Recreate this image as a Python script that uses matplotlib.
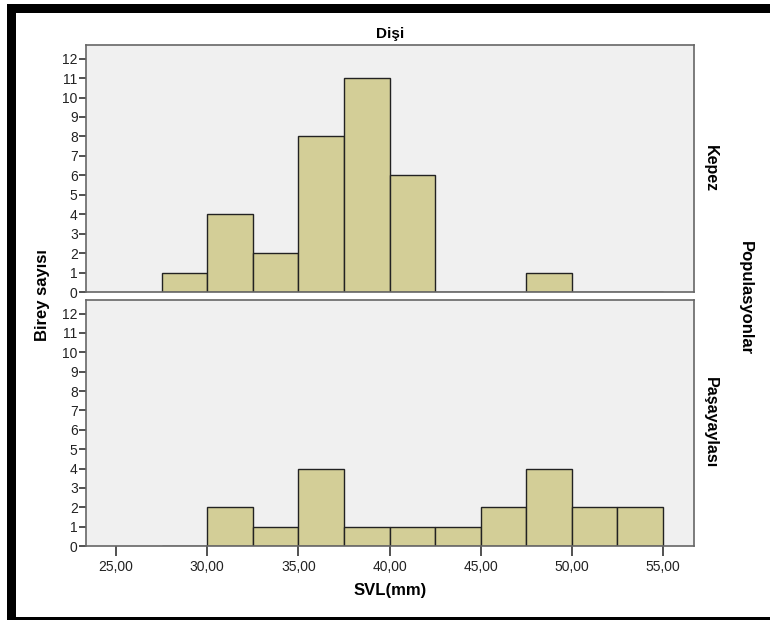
import matplotlib.pyplot as plt
import numpy as np
from matplotlib.patches import Rectangle

plt.rcParams['font.family'] = ['Liberation Sans', 'DejaVu Sans']

# Histogram bins (SVL, mm) and counts per population
bin_edges = [27.5, 30.0, 32.5, 35.0, 37.5, 40.0, 42.5, 45.0, 47.5, 50.0, 52.5, 55.0]
kepez_counts = [1, 4, 2, 8, 11, 6, 0, 0, 1, 0, 0]
pasa_counts = [0, 2, 1, 4, 1, 1, 1, 2, 4, 2, 2]

x_ticks = [25, 30, 35, 40, 45, 50, 55]
x_tick_labels = ["25,00", "30,00", "35,00", "40,00", "45,00", "50,00", "55,00"]
y_ticks = list(range(0, 13))

panel_names = ["Kepez", "Paşayaylası"]
title = "Dişi"

bar_color = "#d3ce97"
bg_color = "#f0f0f0"

W, H = 770, 620
fig = plt.figure(figsize=(W / 100, H / 100), dpi=100)
fig.patch.set_facecolor("white")

def px_axes(x0, y0, x1, y1):
    # pixel box (top-left origin) -> figure coords
    return fig.add_axes([x0 / W, 1 - y1 / H, (x1 - x0) / W, (y1 - y0) / H])

def px_rect(x0, y0, x1, y1):
    return Rectangle((x0 / W, 1 - y1 / H), (x1 - x0) / W, (y1 - y0) / H,
                     transform=fig.transFigure, facecolor="black",
                     edgecolor="none")

ax_top = px_axes(86, 45, 694, 292)
ax_bot = px_axes(86, 300, 694, 546)

widths = np.diff(bin_edges)
for ax, counts, name in [(ax_top, kepez_counts, panel_names[0]),
                         (ax_bot, pasa_counts, panel_names[1])]:
    ax.set_facecolor(bg_color)
    ax.bar(bin_edges[:-1], counts, width=widths, align="edge",
           color=bar_color, edgecolor="#222222", linewidth=1.0)
    ax.set_xlim(23.35, 56.7)
    ax.set_ylim(0, 12.7)
    ax.set_yticks(y_ticks)
    ax.set_yticklabels([str(v) for v in y_ticks], fontsize=10, color="#222222")
    ax.tick_params(axis="y", direction="out", length=5, width=1.2, pad=1, color="#333333")
    for s in ax.spines.values():
        s.set_color("#666666")
        s.set_linewidth(1.2)
    ax.text(1.015, 0.5, name, transform=ax.transAxes, rotation=-90,
            ha="left", va="center", fontsize=11.5, fontweight="bold")

ax_top.set_xticks([])
ax_bot.set_xticks(x_ticks)
ax_bot.set_xticklabels(x_tick_labels, fontsize=10, color="#222222")
ax_bot.tick_params(axis="x", direction="out", length=7, width=1.2, pad=3, color="#333333")

ax_top.set_title(title, fontsize=11, fontweight="bold", pad=5)

fig.text(390 / W, 1 - 590 / H, "SVL(mm)", ha="center", va="center",
         fontsize=12, fontweight="bold")
fig.text(42 / W, 1 - 295 / H, "Birey sayısı", rotation=90, ha="center",
         va="center", fontsize=12, fontweight="bold")
fig.text(745 / W, 1 - 298 / H, "Populasyonlar", rotation=-90, ha="center",
         va="center", fontsize=12, fontweight="bold")

# black frame bands (top, left, bottom)
fig.patches.append(px_rect(7, 4, 770, 13))
fig.patches.append(px_rect(7, 4, 16, 620))
fig.patches.append(px_rect(7, 617, 770, 620))

fig.savefig("out.png", dpi=100)
